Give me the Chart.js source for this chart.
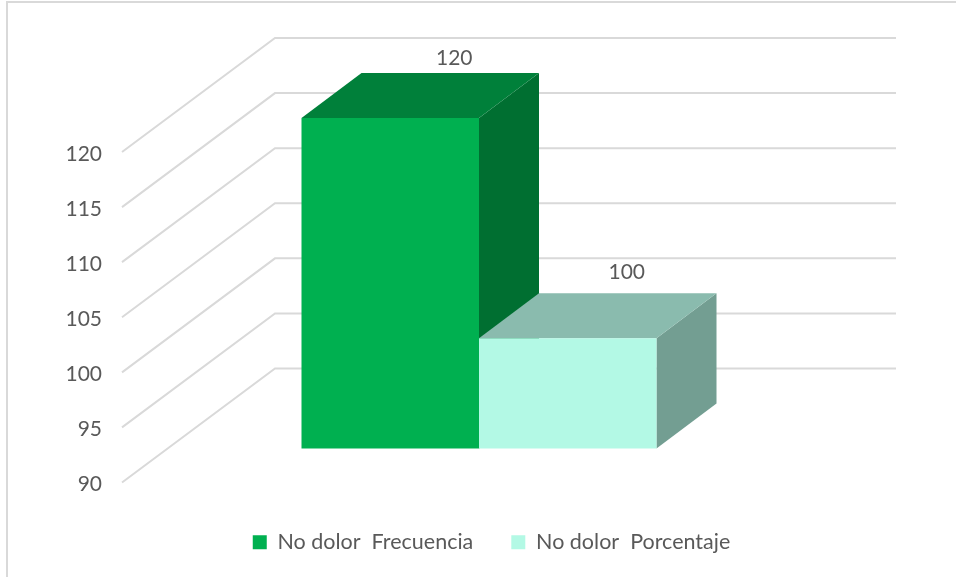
<!DOCTYPE html>
<html>
<head>
<meta charset="utf-8">
<style>html,body{margin:0;padding:0;background:#fff;overflow:hidden}canvas{display:block}</style>
<script src="https://cdn.jsdelivr.net/npm/chart.js@4/dist/chart.umd.min.js"></script>
</head>
<body>
<canvas id="c" width="956" height="577"></canvas>
<script>
const categories = ['No dolor'];
const seriesNames = ['No dolor  Frecuencia', 'No dolor  Porcentaje'];
const frecuencia = [120];
const porcentaje = [100];
const tickValues = [90, 95, 100, 105, 110, 115, 120];

const FONT = 'Lato, "Open Sans", sans-serif';
const TEXT = '#595959';
const GRID = '#d9d9d9';
const faces = [
  {top: '#00803A', side: '#006F31', dx: 64, dy: -15},
  {top: '#8ABBAE', side: '#739E92', dx: 59, dy: -21}
];

function poly(ctx, pts, color) {
  ctx.fillStyle = color;
  ctx.beginPath();
  pts.forEach((p, i) => i ? ctx.lineTo(p[0], p[1]) : ctx.moveTo(p[0], p[1]));
  ctx.closePath();
  ctx.fill();
}

const threeD = {
  id: 'threeD',
  beforeDatasetsDraw(chart) {
    const ctx = chart.ctx, y = chart.scales.y, a = chart.chartArea;
    ctx.save();
    // frame
    ctx.strokeStyle = GRID; ctx.lineWidth = 2;
    ctx.beginPath(); ctx.moveTo(7, 577); ctx.lineTo(7, 2); ctx.lineTo(956, 2); ctx.stroke();
    // walls
    const backX = a.left + 107, backRight = a.right + 106, backUp = 80;
    const frontX = a.left - 46, frontDown = 34;
    y.ticks.forEach(t => {
      const py = y.getPixelForValue(t.value);
      ctx.beginPath();
      ctx.moveTo(frontX, py + frontDown);
      ctx.lineTo(backX, py - backUp);
      ctx.lineTo(backRight, py - backUp);
      ctx.stroke();
    });
    // bar depth faces
    const dx = 60, dy = 45;
    const floor = y.getPixelForValue(y.min);
    chart.data.datasets.forEach((d, i) => {
      chart.getDatasetMeta(i).data.forEach(b => {
        const l = b.x - b.width / 2, r = b.x + b.width / 2, t = b.y;
        poly(ctx, [[r, t], [r + dx, t - dy], [r + dx, floor - dy], [r, floor]], faces[i].side);
        poly(ctx, [[l, t], [l + dx, t - dy], [r + dx, t - dy], [r, t]], faces[i].top);
      });
    });
    ctx.restore();
  },
  afterDatasetsDraw(chart) {
    const ctx = chart.ctx;
    ctx.save();
    ctx.font = '21px ' + FONT;
    ctx.fillStyle = TEXT;
    ctx.textAlign = 'center';
    ctx.textBaseline = 'middle';
    chart.data.datasets.forEach((d, i) => {
      chart.getDatasetMeta(i).data.forEach((b, j) => {
        ctx.fillText(String(d.data[j]), b.x + faces[i].dx, b.y - 45 + faces[i].dy);
      });
    });
    ctx.restore();
  }
};

new Chart(document.getElementById('c'), {
  type: 'bar',
  data: {
    labels: categories,
    datasets: [
      {label: seriesNames[0], data: frecuencia, backgroundColor: '#00B050', categoryPercentage: 355 / 622, barPercentage: 1},
      {label: seriesNames[1], data: porcentaje, backgroundColor: '#B3F9E5', categoryPercentage: 355 / 622, barPercentage: 1}
    ]
  },
  options: {
    responsive: false,
    animation: false,
    events: [],
    layout: {padding: {left: 27, right: 0, top: 118, bottom: 14}},
    plugins: {
      tooltip: {enabled: false},
      legend: {
        position: 'bottom',
        labels: {font: {family: FONT, size: 21.5}, color: TEXT, boxWidth: 14, boxHeight: 14, padding: 38}
      }
    },
    scales: {
      x: {
        grid: {display: false},
        border: {display: false},
        ticks: {display: false},
        afterFit(s) { s.height = 45; }
      },
      y: {
        min: 90, max: 120,
        afterBuildTicks(s) { s.ticks = tickValues.map(v => ({value: v})); },
        grid: {display: false},
        border: {display: false},
        ticks: {font: {family: FONT, size: 21}, color: TEXT, padding: 58, labelOffset: 36},
        afterFit(s) { s.width = 141; }
      },
      rightSpace: {
        position: 'right',
        grid: {display: false},
        border: {display: false},
        ticks: {display: false},
        afterFit(s) { s.width = 166; }
      }
    }
  },
  plugins: [threeD]
});
</script>
</body>
</html>
